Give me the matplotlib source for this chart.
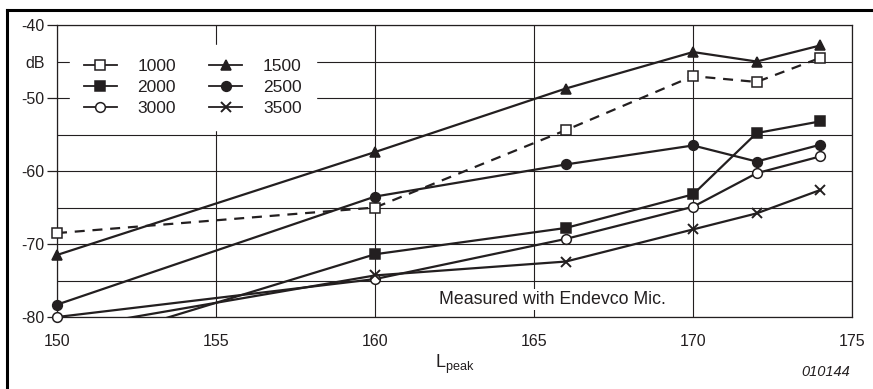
import matplotlib
matplotlib.use("Agg")
import matplotlib.pyplot as plt
from matplotlib.lines import Line2D
import numpy as np

plt.rcParams['font.family'] = ['Liberation Sans', 'DejaVu Sans']

INK = '#231f20'

# values
l_peak = [150, 160, 166, 170, 172, 174]
series_names = ['1000', '1500', '2000', '2500', '3000', '3500']
db_1000 = [-68.5, -65.0, -54.4, -47.0, -47.8, -44.5]
db_1500 = [-71.5, -57.4, -48.7, -43.7, -45.0, -42.8]
db_2000 = [-84.7, -71.4, -67.8, -63.2, -54.8, -53.2]
db_2500 = [-78.3, -63.5, -59.1, -56.5, -58.7, -56.4]
db_3000 = [-80.0, -74.8, -69.3, -64.9, -60.3, -58.0]
db_3500 = [-81.8, -74.3, -72.4, -68.0, -65.8, -62.6]

x_ticks = [150, 155, 160, 165, 170, 175]
y_major = [-40, -50, -60, -70, -80]
y_major_labels = ['-40', '-50', '-60', '-70', '-80']
y_minor = [-45, -55, -65, -75]
y_minor_labels = ['dB', '', '', '']

styles = {
    '1000': dict(marker='s', mfc='white', ls=(0, (4.5, 3.5)), data=db_1000),
    '1500': dict(marker='^', mfc=INK, ls='-', data=db_1500),
    '2000': dict(marker='s', mfc=INK, ls='-', data=db_2000),
    '2500': dict(marker='o', mfc=INK, ls='-', data=db_2500),
    '3000': dict(marker='o', mfc='white', ls='-', data=db_3000),
    '3500': dict(marker='x', mfc=INK, ls='-', data=db_3500),
}

fig = plt.figure(figsize=(8.73, 3.89), dpi=100)
ax = fig.add_axes([0.0653, 0.185, 0.9107, 0.7507])

ax.set_xlim(150, 175)
ax.set_ylim(-80, -40)

for name in series_names:
    st = styles[name]
    y = np.array(st['data'])
    x = np.array(l_peak)
    ax.plot(x, y, color=INK, lw=1.6, ls=st['ls'], zorder=3)
    keep = y >= -80
    ax.plot(x[keep], y[keep], ls='none', marker=st['marker'], ms=7 if st['marker'] != 'x' else 6.5,
            mfc=st['mfc'], mec=INK, mew=1.1 if st['marker'] != 'x' else 1.4,
            zorder=4, clip_on=False)

ax.set_xticks(x_ticks)
ax.set_xticklabels([str(t) for t in x_ticks])
ax.set_yticks(y_major)
ax.set_yticklabels(y_major_labels)
ax.set_yticks(y_minor, minor=True)
ax.set_yticklabels(y_minor_labels, minor=True)

ax.tick_params(axis='x', length=0, pad=12, labelsize=11.5, colors=INK)
ax.tick_params(axis='y', which='major', length=7, width=0.9, pad=2, labelsize=11.5, colors=INK)
ax.tick_params(axis='y', which='minor', length=0, pad=9, labelsize=11.5, colors=INK)

ax.grid(True, which='both', axis='y', color=INK, lw=0.8)
ax.grid(True, which='major', axis='x', color=INK, lw=0.8)
ax.set_axisbelow(True)
for sp in ax.spines.values():
    sp.set_color(INK)
    sp.set_linewidth(0.9)

ax.set_xlabel(r'$\mathregular{L_{peak}}$', fontsize=13, color=INK, labelpad=3)

ax.text(165.57, -77.6, 'Measured with Endevco Mic.', ha='center', va='center',
        fontsize=12.8, color=INK, zorder=2.5,
        bbox=dict(facecolor='white', edgecolor='none', pad=1.5))

# legend, column-wise order
order = ['1000', '2000', '3000', '1500', '2500', '3500']
handles = []
for name in order:
    st = styles[name]
    handles.append(Line2D([], [], color=INK, lw=1.3, marker=st['marker'],
                          ms=7 if st['marker'] != 'x' else 6.5, mfc=st['mfc'], mec=INK,
                          mew=1.1 if st['marker'] != 'x' else 1.4))
leg = ax.legend(handles, order, ncol=2, loc='upper left', bbox_to_anchor=(0.016, 0.932),
                borderaxespad=0, frameon=True, fancybox=False, framealpha=1,
                edgecolor='white', facecolor='white', fontsize=12.5,
                handlelength=1.9, handletextpad=1.2, columnspacing=1.9,
                labelspacing=0.35, borderpad=0.8)
for t in leg.get_texts():
    t.set_color(INK)

fig.text(0.974, 0.025, '010144', ha='right', va='bottom', fontsize=10.5,
         style='italic', color=INK)

# L-shaped border at top and left
fig.add_artist(Line2D([0.008, 1.0], [0.974, 0.974], transform=fig.transFigure,
                      color='black', lw=2.2))
fig.add_artist(Line2D([0.008, 0.008], [0.0, 0.974], transform=fig.transFigure,
                      color='black', lw=2.2))

fig.savefig('out.png', dpi=100)
